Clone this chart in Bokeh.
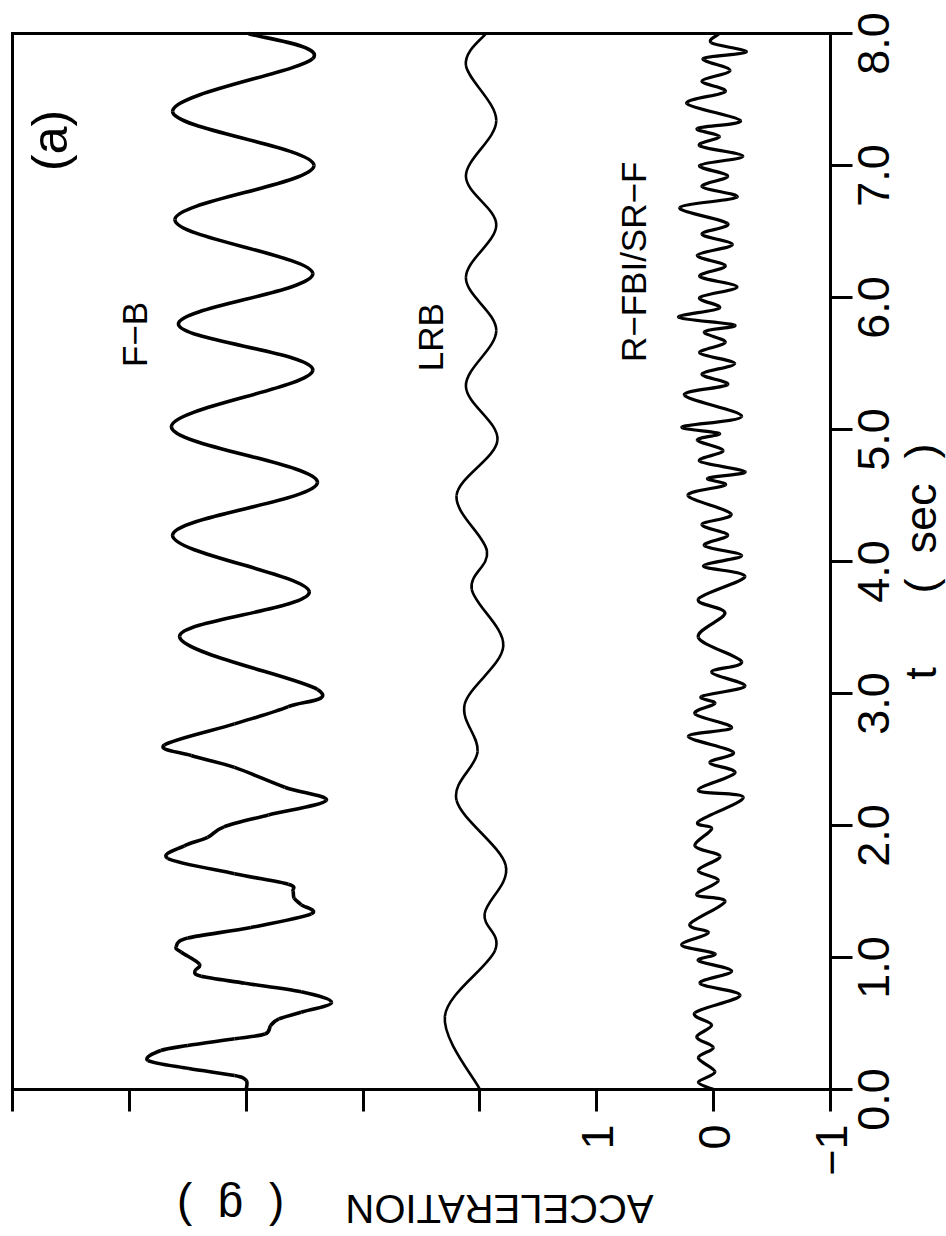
import math

from bokeh.plotting import figure
from bokeh.models import Range1d, LinearAxis, FixedTicker, Label, ColumnDataSource
from bokeh.embed import file_html
from bokeh.resources import INLINE

FONT = "Liberation Sans"
NBSP = "\u00a0"

# ---- axes -------------------------------------------------------------
t_ticks = [0, 1, 2, 3, 4, 5, 6, 7, 8]
t_tick_labels = ["0.0", "1.0", "2.0", "3.0", "4.0", "5.0", "6.0", "7.0", "8.0"]
acc_ticks = [-1, 0, 1, 2, 3, 4, 5, 6]
acc_tick_labels = ["\u22121", "0", "1", "", "", "", "", ""]

# each record is drawn about its own zero line on the acceleration axis
fb_offset = 4.0
lrb_offset = 2.0
rf_offset = 0.0

# ---- F-B record: time (s), acceleration (g) --------------------------
fb_t = [0.00, 0.068, 0.106, 0.159, 0.22, 0.295, 0.333, 0.384, 0.42, 0.485,
        0.535, 0.585, 0.66, 0.74, 0.805, 0.858, 0.897, 0.95, 1.04, 1.08,
        1.147, 1.227, 1.33, 1.40, 1.45, 1.503, 1.555, 1.635, 1.75, 1.846,
        1.91, 1.99, 2.08, 2.19, 2.29, 2.44, 2.53, 2.61, 2.77, 2.90,
        3.03, 3.43, 3.77, 4.20, 4.60, 5.02, 5.45, 5.80, 6.18, 6.59,
        7.00, 7.41, 7.81, 8.00]
fb_a = [0.00, 0.00, 0.10, 0.49, 0.84, 0.73, 0.50, 0.10, -0.16, -0.21,
        -0.28, -0.47, -0.73, -0.47, 0.01, 0.385, 0.44, 0.40, 0.556, 0.60,
        0.50, -0.04, -0.556, -0.47, -0.41, -0.40, -0.36, 0.10, 0.67, 0.53,
        0.33, 0.19, -0.19, -0.685, -0.33, 0.10, 0.47, 0.70, 0.10, -0.36,
        -0.61, 0.57, -0.54, 0.63, -0.61, 0.64, -0.57, 0.58, -0.57, 0.61,
        -0.58, 0.63, -0.57, -0.02]

# ---- LRB record ---------------------------------------------------------
lrb_t = [0.00, 0.555, 1.055, 1.33, 1.70, 2.19, 2.56, 2.92, 3.36, 3.79,
         4.08, 4.50, 4.92, 5.33, 5.75, 6.15, 6.55, 6.92, 7.34, 7.76, 8.00]
lrb_a = [0.00, 0.30, -0.13, -0.04, -0.22, 0.20, 0.02, 0.13, -0.20, 0.07,
         -0.06, 0.20, -0.15, 0.12, -0.14, 0.12, -0.14, 0.12, -0.14, 0.12,
         -0.05]

# ---- R-FBI/SR-F record --------------------------------------------------
rf_t = [0.00, 0.055, 0.134, 0.239, 0.318, 0.397, 0.489, 0.581, 0.713, 0.805,
        0.897, 0.976, 1.029, 1.095, 1.187, 1.253, 1.424, 1.476, 1.582, 1.660,
        1.766, 1.845, 1.976, 2.029, 2.213, 2.266, 2.398, 2.477, 2.556, 2.675,
        2.741, 2.846, 2.925, 2.978, 3.056, 3.162, 3.241, 3.425, 3.609, 3.715,
        3.886, 3.965, 4.044, 4.12, 4.20, 4.28, 4.36, 4.50, 4.58, 4.63,
        4.68, 4.76, 4.84, 4.92, 4.97, 5.02, 5.10, 5.26, 5.34, 5.42,
        5.50, 5.58, 5.66, 5.74, 5.79, 5.85, 5.92, 6.00, 6.08, 6.16,
        6.24, 6.32, 6.40, 6.48, 6.56, 6.68, 6.76, 6.84, 6.92, 7.00,
        7.07, 7.15, 7.22, 7.28, 7.34, 7.47, 7.56, 7.64, 7.72, 7.81,
        7.86, 7.93, 8.00]
rf_a = [0.00, 0.131, -0.011, 0.131, 0.003, 0.145, 0.017, 0.160, -0.226, 0.117,
        -0.154, 0.131, -0.011, 0.274, 0.046, 0.203, -0.097, 0.145, -0.040, 0.131,
        -0.054, 0.160, 0.017, 0.131, -0.254, 0.131, -0.183, 0.032, -0.168, 0.217,
        -0.154, 0.160, -0.011, 0.103, -0.268, 0.017, -0.240, 0.131, -0.097, 0.131,
        -0.268, 0.088, -0.240, 0.08, -0.12, 0.10, -0.15, 0.22, -0.10, 0.05,
        -0.27, 0.12, -0.08, 0.14, -0.05, 0.27, -0.24, 0.25, -0.12, 0.10,
        -0.18, 0.12, -0.10, 0.08, -0.18, 0.30, -0.05, 0.12, -0.20, 0.12,
        -0.10, 0.14, -0.16, 0.10, -0.12, 0.29, -0.20, 0.10, -0.12, 0.12,
        -0.25, 0.12, -0.05, 0.14, -0.23, 0.23, -0.10, 0.10, -0.14, 0.09,
        -0.28, 0.02, -0.05]


def smooth_segments(ts, accs, offset):
    """Cubic Catmull-Rom segments through the samples, as Bezier controls."""
    xs = [a + offset for a in accs]
    ys = list(ts)
    n = len(xs)
    cols = {k: [] for k in ("x0", "y0", "x1", "y1", "cx0", "cy0", "cx1", "cy1")}
    for i in range(n - 1):
        ip = max(i - 1, 0)
        inx = min(i + 2, n - 1)
        cols["x0"].append(xs[i])
        cols["y0"].append(ys[i])
        cols["x1"].append(xs[i + 1])
        cols["y1"].append(ys[i + 1])
        cols["cx0"].append(xs[i] + (xs[i + 1] - xs[ip]) / 6.0)
        cols["cy0"].append(ys[i] + (ys[i + 1] - ys[ip]) / 6.0)
        cols["cx1"].append(xs[i + 1] - (xs[inx] - xs[i]) / 6.0)
        cols["cy1"].append(ys[i + 1] - (ys[inx] - ys[i]) / 6.0)
    return ColumnDataSource(cols)


# ---- page layout: the panel box sits inside a full-page frame ---------
W, H = 946, 1236
PAD_L, PAD_R, PAD_T, PAD_B = 12, 116, 33, 147
acc_lo, acc_hi = acc_ticks[0], acc_ticks[-1]
t_lo, t_hi = t_ticks[0], t_ticks[-1]
px_per_g = (W - PAD_L - PAD_R) / (acc_hi - acc_lo)
px_per_s = (H - PAD_T - PAD_B) / (t_hi - t_lo)

# acceleration grows to the left, time grows upward (page turned a quarter)
x_range = Range1d(acc_hi + PAD_L / px_per_g, acc_lo - PAD_R / px_per_g)
y_range = Range1d(t_lo - PAD_B / px_per_s, t_hi + PAD_T / px_per_s)

p = figure(width=W, height=H, x_range=x_range, y_range=y_range,
           x_axis_type=None, y_axis_type=None,
           toolbar_location=None, output_backend="svg",
           min_border=0)
p.outline_line_color = None
p.background_fill_color = "white"
p.border_fill_color = "white"

axis_style = dict(major_tick_in=0, major_tick_out=22, minor_tick_in=0,
                  minor_tick_out=22, axis_line_width=3,
                  major_tick_line_width=3, minor_tick_line_width=3,
                  axis_line_color="black", major_tick_line_color="black",
                  minor_tick_line_color="black", axis_line_cap="square")

# ticks only; the numbers are set as turned labels further down
acc_axis = LinearAxis(ticker=FixedTicker(ticks=[], minor_ticks=acc_ticks),
                      fixed_location=t_lo, bounds=(acc_lo, acc_hi), **axis_style)
t_axis = LinearAxis(ticker=FixedTicker(ticks=[], minor_ticks=t_ticks),
                    fixed_location=acc_lo, bounds=(t_lo, t_hi), **axis_style)
top_edge = LinearAxis(ticker=FixedTicker(ticks=[]), fixed_location=t_hi,
                      bounds=(acc_lo, acc_hi), **axis_style)
left_edge = LinearAxis(ticker=FixedTicker(ticks=[]), fixed_location=acc_hi,
                       bounds=(t_lo, t_hi), **axis_style)
p.add_layout(acc_axis, "below")
p.add_layout(t_axis, "right")
p.add_layout(top_edge, "above")
p.add_layout(left_edge, "left")

for ts, accs, off, lw in ((fb_t, fb_a, fb_offset, 3.6),
                          (lrb_t, lrb_a, lrb_offset, 2.6),
                          (rf_t, rf_a, rf_offset, 3.2)):
    src = smooth_segments(ts, accs, off)
    p.bezier(x0="x0", y0="y0", x1="x1", y1="y1",
             cx0="cx0", cy0="cy0", cx1="cx1", cy1="cy1",
             source=src, line_color="black", line_width=lw)


def turned_label(x, y, text, size, angle=math.pi / 2, dx=0, dy=0,
                 align="center"):
    p.add_layout(Label(x=x, y=y, x_offset=dx, y_offset=dy, text=text,
                       angle=angle, text_align=align, text_baseline="middle",
                       text_font=FONT, text_font_size=size,
                       text_color="black"))


# ---- tick labels (turned with the page) ------------------------------
for tv, txt in zip(t_ticks, t_tick_labels):
    turned_label(acc_lo, tv, txt, "45px", dx=43, dy=-10)
for av, txt in zip(acc_ticks, acc_tick_labels):
    if txt:
        turned_label(av, t_lo, txt, "45px", dx=1, dy=-35, align="right")

# ---- axis titles ----------------------------------------------------------
t_mid = (t_lo + t_hi) / 2
acc_mid = (acc_lo + acc_hi) / 2
gap = NBSP * 2
turned_label(acc_lo, t_mid, "t", "45px", dx=90, dy=-112)
turned_label(acc_lo, t_mid, "(" + gap + "sec" + gap + ")", "45px", dx=90, dy=43)
turned_label(acc_mid, t_lo, "ACCELERATION", "40px", angle=math.pi,
             dx=78, dy=-119)
turned_label(acc_mid, t_lo, "(" + gap + "g" + gap + ")", "46px", angle=math.pi,
             dx=-191, dy=-118)

# ---- record names and panel tag --------------------------------------
turned_label(5.675, 7.19, "(a)", "50px")
turned_label(4.952, 5.72, "F\u2212B", "35px")
turned_label(2.419, 5.70, "LRB", "35px")
turned_label(0.690, 6.27, "R\u2212FBI/SR\u2212F", "35px")

open("out.html", "w").write(file_html(p, INLINE))
